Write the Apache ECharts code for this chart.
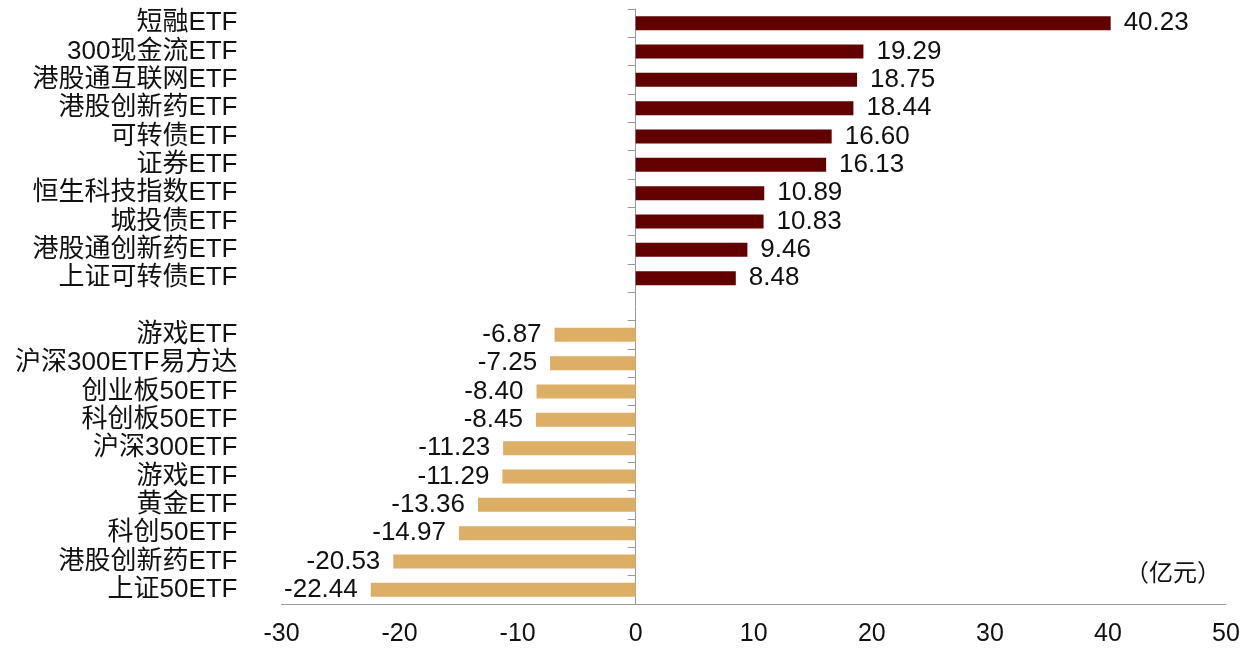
<!DOCTYPE html>
<html>
<head>
<meta charset="utf-8">
<script src="https://cdn.jsdelivr.net/npm/echarts@6/dist/echarts.min.js"></script>
<style>
html,body{margin:0;padding:0;background:#fff;}
#chart{width:1251px;height:654px;}
</style>
</head>
<body>
<div id="chart"></div>
<script>
var categories = ['短融ETF','300现金流ETF','港股通互联网ETF','港股创新药ETF','可转债ETF','证券ETF','恒生科技指数ETF','城投债ETF','港股通创新药ETF','上证可转债ETF','','游戏ETF','沪深300ETF易方达','创业板50ETF','科创板50ETF','沪深300ETF','游戏ETF','黄金ETF','科创50ETF','港股创新药ETF','上证50ETF'];
var values = [40.23,19.29,18.75,18.44,16.60,16.13,10.89,10.83,9.46,8.48,null,-6.87,-7.25,-8.40,-8.45,-11.23,-11.29,-13.36,-14.97,-20.53,-22.44];
var xTicks = [-30,-20,-10,0,10,20,30,40,50];
var unitText = '（亿元）';

var FONT = "'Liberation Sans', 'Noto Sans CJK SC', sans-serif";
var POS_COLOR = '#620000';
var NEG_COLOR = '#DCAE66';

var barData = values.map(function(v){
  if (v === null) return {value: null};
  return {
    value: v,
    itemStyle: {color: v >= 0 ? POS_COLOR : NEG_COLOR},
    label: {position: v >= 0 ? 'right' : 'left'}
  };
});

var chart = echarts.init(document.getElementById('chart'));
chart.setOption({
  animation: false,
  backgroundColor: '#fff',
  textStyle: {fontFamily: FONT},
  grid: {left: 281.5, right: 25, top: 9, bottom: 50, containLabel: false},
  xAxis: {
    type: 'value',
    min: xTicks[0],
    max: xTicks[xTicks.length-1],
    interval: 10,
    splitLine: {show: false},
    axisTick: {show: false},
    axisLine: {show: true, lineStyle: {color: '#999', width: 1}},
    axisLabel: {fontSize: 25, color: '#111', margin: 18, fontFamily: FONT}
  },
  yAxis: [
    {
      type: 'category',
      data: categories,
      inverse: true,
      position: 'left',
      axisLine: {show: false, onZero: false},
      axisTick: {show: false},
      axisLabel: {interval: 0, fontSize: 26, color: '#111', margin: 44, fontFamily: FONT}
    },
    {
      type: 'category',
      data: categories,
      inverse: true,
      position: 'left',
      axisLine: {show: true, onZero: true, onZeroAxisIndex: 0, lineStyle: {color: '#999', width: 1}},
      axisTick: {show: true, interval: 0, length: 8, lineStyle: {color: '#999'}},
      axisLabel: {show: false}
    }
  ],
  graphic: [{
    type: 'text',
    left: 1125,
    top: 562,
    style: {text: unitText, font: "24px " + FONT, fill: '#111'}
  }],
  series: [{
    type: 'bar',
    yAxisIndex: 0,
    barWidth: 14,
    data: barData,
    label: {
      show: true,
      distance: 13,
      fontSize: 26,
      color: '#111',
      fontFamily: FONT,
      formatter: function(p){ return p.value == null ? '' : p.value.toFixed(2); }
    }
  }]
});
</script>
</body>
</html>
